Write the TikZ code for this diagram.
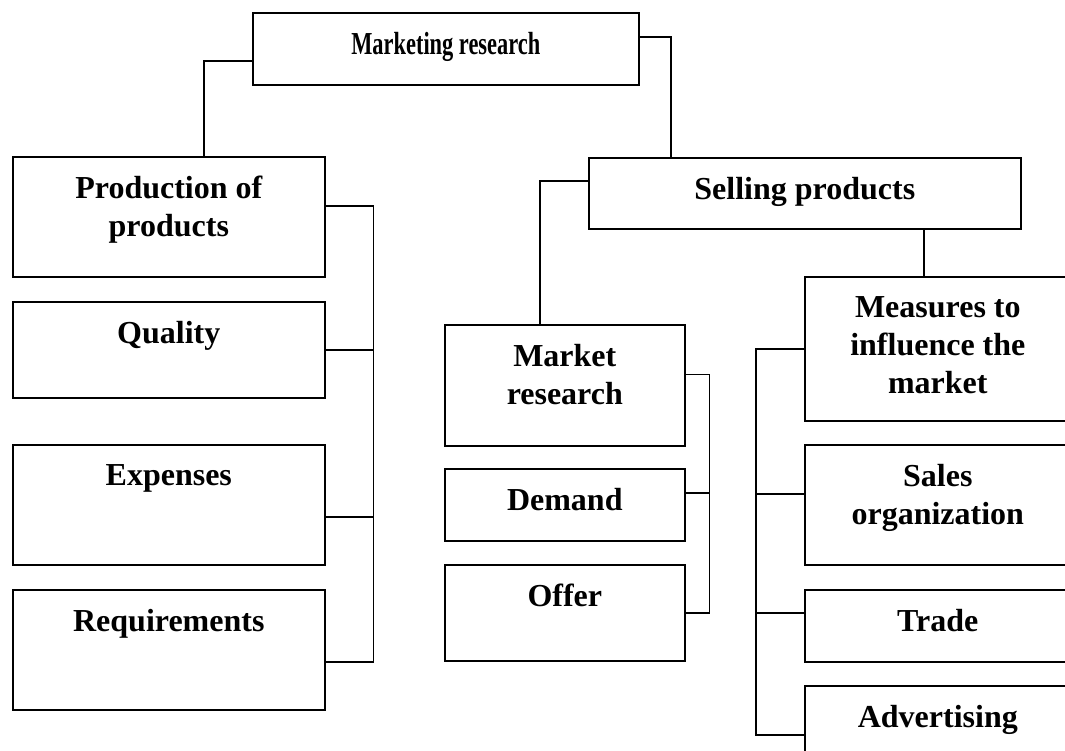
\documentclass[tikz,border=0pt]{standalone}
\usepackage{fontspec}
\setmainfont{Liberation Serif}
\tikzset{
  box/.style={draw, line width=1.6pt, anchor=north west, inner sep=0pt},
  lbl/.style={anchor=north, yshift=-20pt, inner sep=0pt, align=center,
    font=\bfseries\fontsize{32}{38}\selectfont},
}
\begin{document}
\begin{tikzpicture}[x=1pt,y=-1pt]
      \useasboundingbox (0,0) rectangle (1065,751);
      \clip (0,0) rectangle (1065,751);
      % top level
      \node[box, minimum width=386pt, minimum height=72pt,
        label={[lbl]north:\scalebox{0.7}[1]{Marketing research}}] (mr) at (252,12) {};
      % production branch
      \node[box, minimum width=312pt, minimum height=120pt,
        label={[lbl]north:Production of\\products}] (prod) at (12,156) {};
      \node[box, minimum width=312pt, minimum height=96pt,
        label={[lbl]north:Quality}] (qual) at (12,301) {};
      \node[box, minimum width=312pt, minimum height=120pt,
        label={[lbl]north:Expenses}] (exp) at (12,444) {};
      \node[box, minimum width=312pt, minimum height=120pt,
        label={[lbl]north:Requirements}] (req) at (12,589) {};
      % selling branch
      \node[box, minimum width=432pt, minimum height=71pt,
        label={[lbl]north:Selling products}] (sell) at (588,157) {};
      \node[box, minimum width=240pt, minimum height=121pt,
        label={[lbl]north:Market\\research}] (mkt) at (444,324) {};
      \node[box, minimum width=240pt, minimum height=72pt,
        label={[lbl]north:Demand}] (dem) at (444,468) {};
      \node[box, minimum width=240pt, minimum height=96pt,
        label={[lbl]north:Offer}] (off) at (444,564) {};
      \node[box, minimum width=266pt, minimum height=144pt,
        label={[lbl]north:Measures to\\influence the\\market}] (meas) at (804,276) {};
      \node[box, minimum width=266pt, minimum height=120pt,
        label={[lbl]north:Sales\\organization}] (sales) at (804,444) {};
      \node[box, minimum width=266pt, minimum height=72pt,
        label={[lbl]north:Trade}] (trade) at (804,589) {};
      \node[box, minimum width=266pt, minimum height=96pt,
        label={[lbl]north:Advertising}] (adv) at (804,685) {};
      \coordinate (a1) at (204,61);
      \coordinate (a2) at (671,37);
      \coordinate (a3) at (540,181);
      \coordinate (a4) at (924,0);
      \begin{scope}[line width=1.6pt]
        \draw (mr.west |- a1) -- (a1) -- (a1 |- prod.north);
        \draw (mr.east |- a2) -- (a2) -- (a2 |- sell.north);
        \draw (sell.west |- a3) -- (a3) -- (a3 |- mkt.north);
        \draw (a4 |- sell.south) -- (a4 |- meas.north);
        \draw ([yshift=11pt]prod.east) -| ([xshift=48pt,yshift=-12pt]req.east) -- ([yshift=-12pt]req.east);
        \draw (qual.east) -- ++(48,0);
        \draw ([yshift=-12pt]exp.east) -- ++(48,0);
        \draw ([yshift=11pt]mkt.east) -| ([xshift=24pt]off.east) -- (off.east);
        \draw ([yshift=12pt]dem.east) -- ++(24,0);
        \draw (meas.west) -| ([xshift=-48pt,yshift=-1pt]adv.west) -- ([yshift=-1pt]adv.west);
        \draw ([yshift=11pt]sales.west) -- ++(-48,0);
        \draw ([yshift=13pt]trade.west) -- ++(-48,0);
      \end{scope}
    \end{tikzpicture}
\end{document}
